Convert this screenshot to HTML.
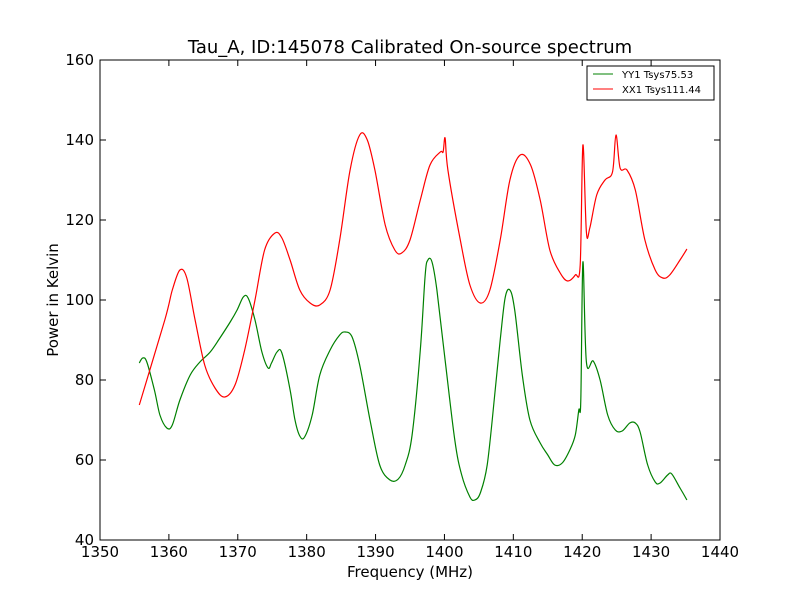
<!DOCTYPE html>
<html><head><meta charset="utf-8"><style>
body{margin:0;background:#fff;}
svg{display:block;font-family:"DejaVu Sans","Liberation Sans",sans-serif;}
</style></head><body>
<svg id="chart" width="800" height="600">
<rect x="0" y="0" width="800" height="600" fill="#fff"/>
<text x="410" y="53" font-size="18" text-anchor="middle">Tau_A, ID:145078 Calibrated On-source spectrum</text>
<g id="ticks"></g>
<g id="series"></g>
<rect x="100" y="60" width="620" height="480" fill="none" stroke="#000" stroke-width="1"/>
<text x="410" y="577" font-size="15" text-anchor="middle">Frequency (MHz)</text>
<text transform="translate(58,300) rotate(-90)" font-size="15" text-anchor="middle">Power in Kelvin</text>
<g>
<rect x="587" y="66" width="127" height="34" fill="#fff" stroke="#000" stroke-width="1"/>
<g><line x1="593" y1="74" x2="613" y2="74" stroke="#008000"/><text x="622" y="78" font-size="10">YY1 Tsys75.53</text></g>
<g><line x1="593" y1="89" x2="613" y2="89" stroke="#ff0000"/><text x="622" y="93" font-size="10">XX1 Tsys111.44</text></g>
</g>
</svg>
<script>
const xTicks=[1350,1360,1370,1380,1390,1400,1410,1420,1430,1440];
const yTicks=[40,60,80,100,120,140,160];
const yyFreq=[1355.7,1356.2,1356.8,1357.9,1358.7,1359.7,1360.5,1361.6,1363.1,1364.5,1366,1367.4,1368.9,1369.9,1370.8,1371.5,1372.5,1373.5,1374.4,1374.9,1375.7,1376.4,1377.6,1378.3,1379,1379.7,1380.8,1381.9,1383.4,1384.8,1385.6,1386.6,1387.7,1389.2,1390.6,1392.1,1393.3,1394.3,1395.3,1396.5,1397.2,1397.6,1398.2,1398.9,1400.1,1401.5,1402.5,1403.7,1404.4,1405.2,1406.2,1407.3,1408.1,1408.8,1409.5,1410.2,1411.3,1412.4,1413.9,1415,1416,1417.1,1418.2,1419,1419.5,1419.8,1420.1,1420.6,1421.6,1422.6,1423.7,1424.8,1425.8,1426.9,1427.7,1428.4,1429.5,1430.6,1431.3,1432.4,1433,1434.2,1435.2];
const yyVals=[84.25,85.5,84.5,77.5,71.25,68,68.75,75,81.25,84.5,87,90.5,94.5,97.5,100.75,100.5,95,87,83,84.25,87,86.75,77.5,70,66,65.75,71.25,81.25,87.5,91.25,92,90.75,83.75,70,58.75,55,55.25,58.75,66.25,87.5,106.25,110,109.5,102.5,85,65,56.25,50.75,50,51.75,58.75,76.25,90,100.5,102.5,97.5,81.25,70,64.25,61.25,58.75,59.25,62.5,66.25,72.5,75,109.5,84.5,84.75,80,71.25,67.5,67.25,69.25,69.25,67,58.75,54.5,54.25,56.25,56.5,53,50];
const xxFreq=[1355.7,1359.4,1360.5,1361.6,1362.6,1363.8,1365.2,1366.7,1368.1,1369.6,1371,1372.5,1373.9,1375.4,1376.4,1377.6,1379,1380.5,1381.9,1383.4,1384.8,1386.3,1387.7,1388.8,1389.9,1391.4,1392.8,1393.8,1395,1396.5,1397.9,1399.4,1399.8,1400.1,1400.5,1402.3,1403.7,1405.2,1406.6,1408.1,1409.5,1411,1412.5,1413.9,1415.3,1416.8,1417.9,1419,1419.7,1420.1,1420.6,1421.1,1422.1,1423.3,1424.4,1424.9,1425.5,1426.5,1427.7,1429.1,1430.6,1431.7,1432.7,1434.2,1435.2];
const xxVals=[73.75,95,102.5,107.5,105.5,95,83.75,78,75.75,78.75,87.5,100,112.5,116.75,115.5,110,102.5,99.25,98.75,102.5,115,132.5,141.25,140,132.5,118.75,112.5,111.75,115,125,133.75,137,137,140.5,132.5,115,103.75,99.25,102.5,115,130,136.25,133.75,125,112.5,106.75,104.75,106.25,108.75,138.75,117,118,126.25,130,132,141.25,133,132.5,127.5,115,107.5,105.5,106.25,110,112.75];
const NS='http://www.w3.org/2000/svg';
const X=v=>100+(v-1350)*620/90;
const Y=v=>540-(v-40)*480/120;
const tg=document.getElementById('ticks');
xTicks.forEach(t=>{
  const x=X(t);
  const l1=document.createElementNS(NS,'line');
  l1.setAttribute('x1',x);l1.setAttribute('x2',x);l1.setAttribute('y1',540);l1.setAttribute('y2',534);l1.setAttribute('stroke','#000');
  
  
  tg.appendChild(l1);
  const l2=document.createElementNS(NS,'line');
  l2.setAttribute('x1',x);l2.setAttribute('x2',x);l2.setAttribute('y1',60);l2.setAttribute('y2',66);l2.setAttribute('stroke','#000');
  
  
  tg.appendChild(l2);
  const tx=document.createElementNS(NS,'text');
  tx.setAttribute('x',x);tx.setAttribute('y',557);tx.setAttribute('font-size','15');tx.setAttribute('text-anchor','middle');
  tx.textContent=t;
  
  
  tg.appendChild(tx);
});
yTicks.forEach(t=>{
  const y=Y(t);
  const l1=document.createElementNS(NS,'line');
  l1.setAttribute('x1',100);l1.setAttribute('x2',106);l1.setAttribute('y1',y);l1.setAttribute('y2',y);l1.setAttribute('stroke','#000');
  
  
  tg.appendChild(l1);
  const l2=document.createElementNS(NS,'line');
  l2.setAttribute('x1',714);l2.setAttribute('x2',720);l2.setAttribute('y1',y);l2.setAttribute('y2',y);l2.setAttribute('stroke','#000');
  
  
  tg.appendChild(l2);
  const tx=document.createElementNS(NS,'text');
  tx.setAttribute('x',94);tx.setAttribute('y',y+5);tx.setAttribute('font-size','15');tx.setAttribute('text-anchor','end');
  tx.textContent=t;
  
  
  tg.appendChild(tx);
});
const sg=document.getElementById('series');
function line(fs,vs,color,name){
  const pts=fs.map((f,i)=>[X(f),Y(vs[i])]);
  let d='M'+pts[0][0].toFixed(1)+','+pts[0][1].toFixed(1);
  for(let i=0;i<pts.length-1;i++){
    const p0=pts[Math.max(0,i-1)],p1=pts[i],p2=pts[i+1],p3=pts[Math.min(pts.length-1,i+2)];
    const c1=[p1[0]+(p2[0]-p0[0])/6,p1[1]+(p2[1]-p0[1])/6];
    const c2=[p2[0]-(p3[0]-p1[0])/6,p2[1]-(p3[1]-p1[1])/6];
    d+=' C'+c1[0].toFixed(1)+','+c1[1].toFixed(1)+' '+c2[0].toFixed(1)+','+c2[1].toFixed(1)+' '+p2[0].toFixed(1)+','+p2[1].toFixed(1);
  }
  const p=document.createElementNS(NS,'path');
  p.setAttribute('d',d);
  p.setAttribute('fill','none');p.setAttribute('stroke',color);p.setAttribute('stroke-width','1.2');p.setAttribute('stroke-linejoin','round');
  
  
  sg.appendChild(p);
}
line(yyFreq,yyVals,'#008000','series-yy1');
line(xxFreq,xxVals,'#ff0000','series-xx1');
</script>
</body></html>
